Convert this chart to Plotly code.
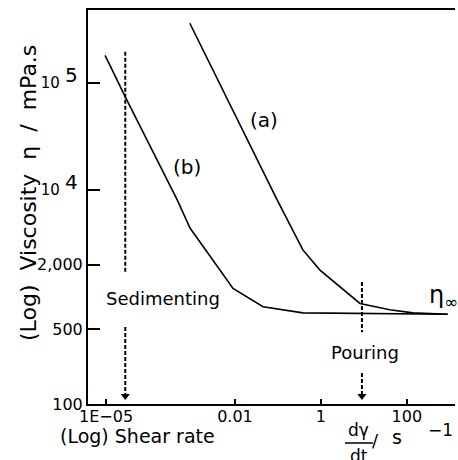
import math
import plotly.graph_objects as go

# ---- data ----
shear_a = [8.9e-4, 0.095, 0.38, 0.95, 8.1, 40, 138, 890]
visc_a = [3.6e5, 8.1e3, 2.75e3, 1.78e3, 870, 760, 710, 690]
shear_b = [9.5e-6, 2.8e-5, 4.5e-4, 9e-4, 9e-3, 4.5e-2, 0.38, 890]
visc_b = [1.8e5, 7.4e4, 8.1e3, 4.4e3, 1.2e3, 810, 710, 690]

x_tickvals = [1e-5, 0.01, 1, 100]
x_ticktext = ["1E\u221205", "0.01", "1", "100"]
y_tickvals = [100, 500, 2000, 1e4, 1e5]
y_ticktext = ["100", "500", "2,000",
              "<span style='font-size:15px'>10</span> <sup><span style='font-size:20px'>4</span></sup> ",
              "<span style='font-size:15px'>10</span> <sup><span style='font-size:20px'>5</span></sup> "]

sediment_rate = 2.8e-5
pouring_rate = 9.0
sediment_upper = [1.95e5, 1.7e3]
sediment_lower = [525, 119]
pouring_upper = [1380, 468]
pouring_lower = [195, 119]
arrow_visc = 119

FONT = "DejaVu Sans"
L, R, T, B = 88, 3, 10, 56
W, H = 458, 460
PW, PH = W - L - R, H - T - B


def px(x):
    return (x - L) / PW


def py(y):
    return (H - B - y) / PH


fig = go.Figure()
line_style = dict(color="black", width=1.6)
fig.add_trace(go.Scatter(x=shear_a, y=visc_a, mode="lines", line=line_style, showlegend=False))
fig.add_trace(go.Scatter(x=shear_b, y=visc_b, mode="lines", line=line_style, showlegend=False))

dash_style = dict(color="black", width=2, dash="4px,2px")
for rate, seg in [(sediment_rate, sediment_upper), (sediment_rate, sediment_lower),
                  (pouring_rate, pouring_upper), (pouring_rate, pouring_lower)]:
    fig.add_trace(go.Scatter(x=[rate, rate], y=seg, mode="lines", line=dash_style, showlegend=False))
fig.add_trace(go.Scatter(x=[sediment_rate, pouring_rate], y=[arrow_visc, arrow_visc], mode="markers",
                         marker=dict(symbol="triangle-down", size=8, color="black"), showlegend=False))

lg = math.log10
annos = [
    dict(x=lg(0.047), y=lg(4.5e4), text="(a)", font=dict(size=20)),
    dict(x=lg(7.7e-4), y=lg(1.64e4), text="(b)", font=dict(size=20)),
    dict(x=lg(2.06e-4), y=lg(957), text="Sedimenting", font=dict(size=18)),
    dict(x=lg(10.5), y=lg(300), text="Pouring", font=dict(size=18)),
    dict(x=lg(292), y=lg(1000), text="\u03b7<sub>\u221e</sub>", font=dict(size=24), xanchor="left"),
]
for a in annos:
    a.setdefault("xanchor", "center")
    a.update(xref="x", yref="y", showarrow=False, yanchor="middle")
    a["font"].update(family=FONT, color="black")
    fig.add_annotation(**a)

paper_annos = [
    dict(x=px(28), y=py(193), text="(Log)  Viscosity  \u03b7  /  mPa.s", textangle=-90, size=22),
    dict(x=px(137.5), y=py(436), text="(Log) Shear rate", size=19),
    dict(x=px(358), y=py(430), text="d\u03b3", size=17),
    dict(x=px(359), y=py(456), text="dt", size=17),
    dict(x=px(375), y=py(440), text="/", size=18),
    dict(x=px(397), y=py(437), text="s", size=19),
    dict(x=px(440), y=py(430), text="\u22121", size=17),
]
for a in paper_annos:
    s = a.pop("size")
    fig.add_annotation(xref="paper", yref="paper", showarrow=False, xanchor="center", yanchor="middle",
                       font=dict(family=FONT, size=s, color="black"), **a)

fig.add_shape(type="line", xref="paper", yref="paper", x0=px(345), x1=px(373), y0=py(443), y1=py(443),
              line=dict(color="black", width=1.5))

fig.update_layout(
    width=W, height=H,
    margin=dict(l=L, r=R, t=T, b=B, autoexpand=False),
    paper_bgcolor="white", plot_bgcolor="white",
    font=dict(family=FONT, color="black"),
    xaxis=dict(type="log", range=[-5.42, 3.12], showline=True, linewidth=2, linecolor="black",
               mirror=True, ticks="inside", ticklen=5, tickwidth=1.5, tickcolor="black",
               tickvals=x_tickvals, ticktext=x_ticktext, showgrid=False, zeroline=False,
               automargin=False, ticklabelstandoff=-3,
               tickfont=dict(size=16, family=FONT)),
    yaxis=dict(type="log", range=[2, 5.68], showline=True, linewidth=2, linecolor="black",
               ticks="inside", ticklen=12, tickwidth=2, tickcolor="black",
               tickvals=y_tickvals, ticktext=y_ticktext, showgrid=False, zeroline=False,
               automargin=False,
               tickfont=dict(size=16, family=FONT)),
)

fig.write_html("out.html", config={"displayModeBar": False},
               post_script="document.body.style.margin='0';")
